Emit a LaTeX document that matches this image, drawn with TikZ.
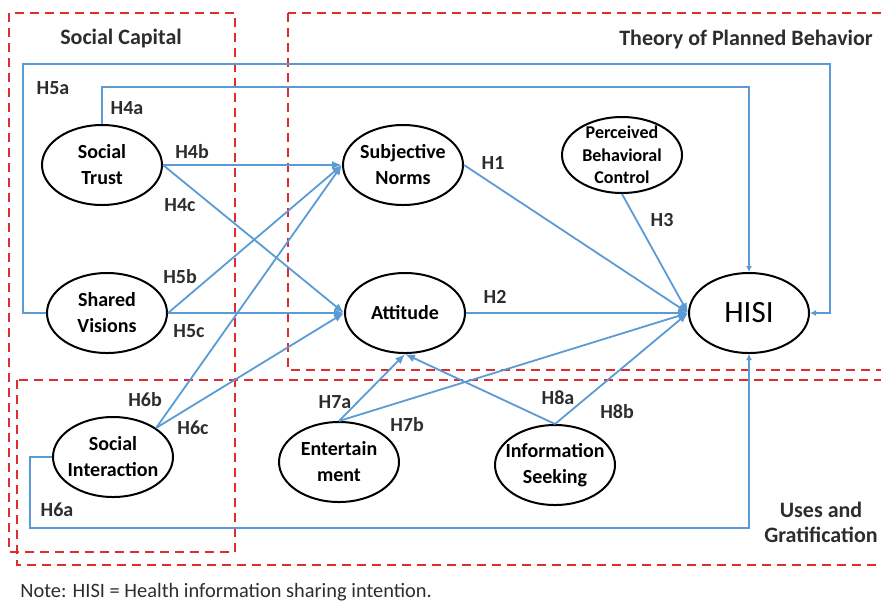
\documentclass[tikz,border=0pt]{standalone}
\usepackage{fontspec}
\setmainfont{Carlito}
\usetikzlibrary{arrows.meta,shapes.geometric}
\definecolor{linkblue}{RGB}{91,155,213}
\definecolor{boxred}{RGB}{222,45,45}
\definecolor{labelgray}{RGB}{45,45,45}

\begin{document}
\begin{tikzpicture}[x=0.5pt,y=-0.5pt,
  var/.style={draw=black,ellipse,line width=1pt,minimum width=60pt,minimum height=40pt,
    inner sep=-5pt,align=center,font=\fontsize{10}{13}\selectfont\bfseries},
  hyp/.style={text=labelgray,inner sep=0pt,font=\fontsize{10}{12}\selectfont\bfseries},
  title/.style={text=labelgray,inner sep=0pt,align=center,font=\fontsize{11}{12.5}\selectfont\bfseries},
  link/.style={linkblue,line width=0.9pt,-{Latex[length=5pt,width=4pt]}},
  feedback/.style={linkblue,line width=0.9pt,-{Latex[length=3pt,width=3pt]}},
  frame/.style={boxred,line width=1pt,dash pattern=on 4.5pt off 3pt}]
\useasboundingbox (0,0) rectangle (881,601);
% frames
\draw[frame] (9,13) rectangle (235,552);
\draw[frame] (288,13) rectangle (895,370);
\draw[frame] (17,380) rectangle (895,565);
\node[title] (tsc) at (121,39) {Social Capital};
\node[title] (ttpb) at (746,40) {Theory of Planned Behavior};
\node[title] (tug) at (821,522) {Uses and\\Gratification};
\node[title,anchor=west,font=\fontsize{10.2}{12}\selectfont] (tnote) at (20,592) {Note: HISI = Health information sharing intention.};
%-------------
\node[var] (st) at (102,165) {Social\\Trust};
\node[var] (sv) at (107,313) {Shared\\Visions};
\node[var] (si) at (113,457) {Social\\Interaction};
\node[var] (sn) at (403,165) {Subjective\\Norms};
\node[var] (att) at (405,313) {Attitude};
\node[var,minimum height=38pt,font=\fontsize{9}{11.25}\selectfont\bfseries] (pbc) at (622,155) {Perceived\\Behavioral\\Control};
\node[var,font=\fontsize{15.5}{18}\selectfont] (hisi) at (749,313) {HISI};
\node[var] (ent) at (339,462) {Entertain\\ment};
\node[var] (is) at (555,465) {Information\\Seeking};
%-------------
\foreach \from/\to in {st.east/sn.west,sv.east/sn.west,si.34/sn.west,
st.east/att.west,sv.east/att.west,si.34/att.west,
sn.east/hisi.west,att.east/hisi.west,pbc.south/hisi.west,
ent.north/att.south,ent.north/hisi.west,is.north/att.south,is.north/hisi.west}
\draw[link] (\from) -- (\to);
\draw[feedback] (sv.west) -- ++(-23,0) |- ++(807,-249) |- (hisi.east);
\draw[feedback] (st.north) -- ++(0,-37) -| (hisi.north);
\draw[feedback] (si.west) -- ++(-22,0) -- ++(0,71) -| (hisi.south);
%-------------
\foreach \lab/\x/\y in {H5a/53/88,H4a/127/108,H4b/192/152,H4c/180/205,
H5b/180/277,H5c/189/331,H6b/145/400,H6c/193/428,H6a/57/510,
H1/493/163,H2/495/297,H3/662/220,H7a/335/402,H7b/407/425,H8a/558/398,H8b/617/412}
\node[hyp] (l\lab) at (\x,\y) {\lab};
\end{tikzpicture}
\end{document}
